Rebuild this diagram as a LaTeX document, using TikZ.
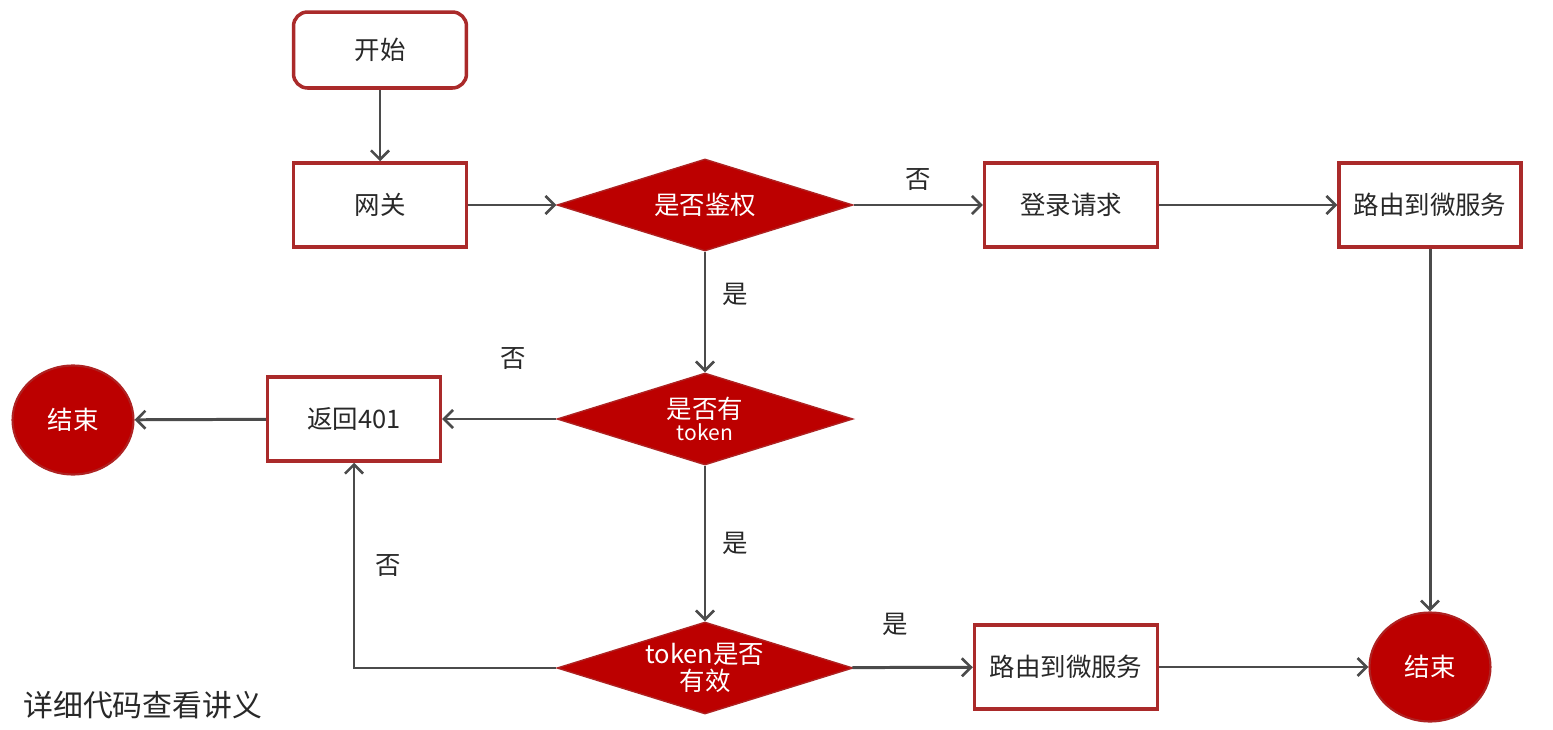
\documentclass[tikz,border=0pt]{standalone}
\usepackage{fontspec}
\newfontfamily\cjk{Noto Sans CJK SC}
\usetikzlibrary{arrows.meta, shapes.geometric}
\definecolor{boxred}{RGB}{170,42,42}
\definecolor{fillred}{RGB}{188,0,0}
\definecolor{linegray}{RGB}{75,75,75}
\definecolor{textgray}{RGB}{40,40,40}
\tikzset{%
  >={Straight Barb[width=3.6mm,length=1.8mm,line width=1.5pt]},
  % node styles
            base/.style = {draw=boxred, line width=2pt, fill=white,
                           text=textgray, font=\cjk\fontsize{14.5}{16}\selectfont},
       startbox/.style = {base, rectangle, rounded corners=8pt,
                           minimum width=3.46cm, minimum height=1.52cm},
        stepbox/.style = {base, rectangle, minimum width=3.46cm, minimum height=1.68cm},
       decision/.style = {diamond, draw=boxred!80!fillred, line width=0.8pt, fill=fillred,
                           text=white, font=\cjk\fontsize{14.5}{15}\selectfont, align=center,
                           minimum width=5.92cm, minimum height=1.84cm, aspect=3.2, inner sep=0pt},
         endnode/.style = {ellipse, draw=boxred!80!fillred, line width=1.2pt, fill=fillred,
                           text=white, font=\cjk\fontsize{14.5}{16}\selectfont,
                           minimum width=2.42cm, minimum height=2.18cm},
           note/.style = {text=textgray, font=\cjk\fontsize{14.5}{16}\selectfont},
}

\begin{document}
\begin{tikzpicture}[x=0.02cm, y=-0.02cm, ->, line width=1.7pt, draw=linegray]
  \useasboundingbox[fill=white] (0,0) rectangle (1553,730);

  \node(start)    [startbox]                          at (380,50)    {开始};
  \node(gateway)  [stepbox]                           at (380,205)   {网关};
  \node(auth)     [decision]                          at (705,205)   {是否鉴权};
  \node(login)    [stepbox]                           at (1071,205)  {登录请求};
  \node(routeA)   [stepbox, minimum width=3.64cm]     at (1430,205)  {路由到微服务};
  \node(hasToken) [decision]                          at (705,419)   {是否有\\[-2pt]{\fontsize{12}{13}\selectfont token}};
  \node(reject)   [stepbox, minimum width=3.46cm]     at (354,419)   {返回401};
  \node(endL)     [endnode]                           at (73,420)    {结束};
  \node(valid)    [decision]                          at (705,668)   {token是否\\有效};
  \node(routeB)   [stepbox, minimum width=3.66cm]     at (1066,667)  {路由到微服务};
  \node(endR)     [endnode]                           at (1430,667)  {结束};

  \node(hint)     [note, font=\cjk\fontsize{17}{19}\selectfont, anchor=west] at (16,705) {详细代码查看讲义};

  % connectors and their labels
  \draw[->]  (start) -- (gateway);
  \draw[->]  (gateway) -- (auth);
  \draw[->]  (auth) -- node[note, above=4pt] {否} (login);
  \draw[->]  (login) -- (routeA);
  \draw[->]  (routeA) -- (endR);
  \draw[->]  (auth) -- node[note, pos=0.35, right=6pt] {是} (hasToken);
  \draw[->]  (hasToken) -- node[note, above=24pt, xshift=8pt] {否} (reject);
  \draw[->]  (reject) -- (endL);
  \draw[->]  (hasToken) -- node[note, right=6pt] {是} (valid);
  \draw[->]  (valid.west) -| node[note, pos=0.75, right=8pt] {否} (reject.south);
  \draw[->]  (valid) -- node[note, above=14pt, xshift=-10pt] {是} (routeB);
  \draw[->]  (routeB) -- (endR);
\end{tikzpicture}
\end{document}
